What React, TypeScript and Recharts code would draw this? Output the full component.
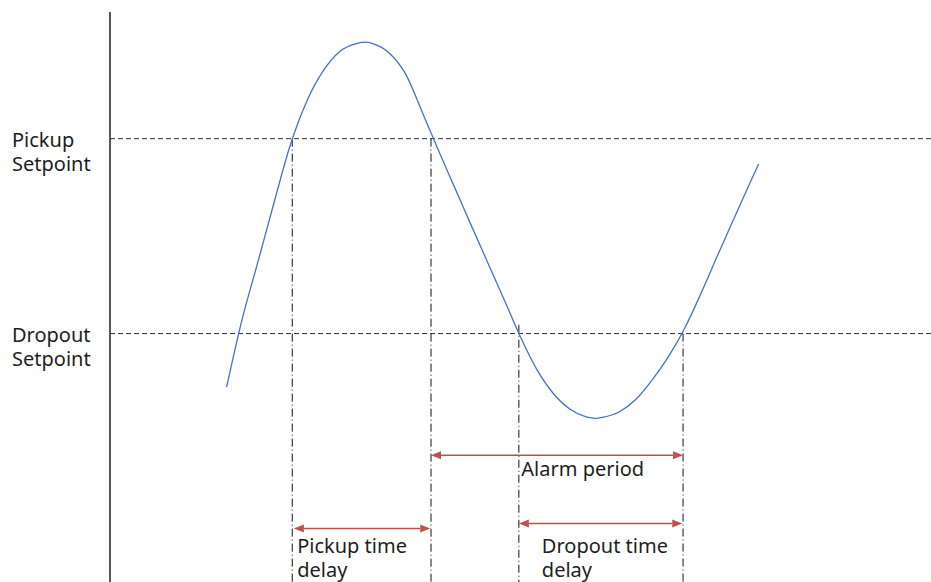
import React from "react";
import { LineChart, Line, XAxis, YAxis, ReferenceLine, ReferenceDot } from "recharts";

const signalTime = [14.2, 16, 18, 20, 22, 24, 26, 28, 30, 31.1, 32, 34, 36, 38, 40, 42, 44, 46, 48, 50, 52, 54, 56, 58, 59.1, 60, 62, 64, 66, 68, 70, 72, 74, 76, 78, 79];
const signalValue = [29.0, 42.3, 54.6, 67.0, 78.9, 87.8, 94.0, 97.9, 99.5, 99.8, 99.5, 97.6, 93.3, 85.6, 77.6, 69.9, 62.2, 54.6, 47.0, 39.3, 32.6, 27.7, 24.5, 22.9, 22.6, 22.8, 23.9, 26.4, 30.4, 35.2, 41.1, 48.3, 56.0, 63.6, 71.1, 74.8];

const setpointValues = [80, 40];
const setpointLabels = [["Pickup", "Setpoint"], ["Dropout", "Setpoint"]];

// where the signal crosses a setpoint, and the level each marker starts from
const crossingTimes = [22.2, 39.1, 49.8, 69.8];
const crossingLevels = [80, 80, 41.8, 40];

const spanFrom = [39.1, 22.4, 49.8];
const spanTo = [69.8, 39.0, 69.7];
const spanLevel = [15, 0, 1];
const spanLabelLines = [["Alarm period"], ["Pickup time", "delay"], ["Dropout time", "delay"]];
const spanLabelTime = [50.1, 22.8, 52.6];
const spanLabelLevel = [10.8, -5, -5];

const Y_MIN = -11;
const Y_MAX = 106;
const FONT = "'Noto Sans', sans-serif";
const TEXT = "#1e1e1e";
const RED = "#C0504D";

const data = signalTime.map((t, i) => ({ t, v: signalValue[i] }));

const SetpointTick = (props: any) => {
  const { y, payload } = props;
  const idx = setpointValues.indexOf(payload.value);
  const lines = setpointLabels[idx] || [];
  return (
    <text x={12} y={y + 8} fontFamily={FONT} fontSize={20} fill={TEXT} textAnchor="start">
      {lines.map((l, i) => (
        <tspan key={i} x={12} dy={i === 0 ? 0 : 24}>
          {l}
        </tspan>
      ))}
    </text>
  );
};

const Arrow = (props: any) => {
  const { x1, y1, x2, y2 } = props;
  const left = Math.min(x1, x2);
  const right = Math.max(x1, x2);
  const y = (y1 + y2) / 2;
  const head = 10;
  const half = 4;
  return (
    <g>
      <line x1={left + head} y1={y} x2={right - head} y2={y} stroke={RED} strokeWidth={1.5} />
      <polygon points={`${left},${y} ${left + head},${y - half} ${left + head},${y + half}`} fill={RED} />
      <polygon points={`${right},${y} ${right - head},${y - half} ${right - head},${y + half}`} fill={RED} />
    </g>
  );
};

const spanLabel = (lines: string[]) => (props: any) => {
  const { cx, cy } = props;
  return (
    <text x={cx} y={cy} fontFamily={FONT} fontSize={20} fill={TEXT} textAnchor="start">
      {lines.map((l, i) => (
        <tspan key={i} x={cx} dy={i === 0 ? 0 : 24}>
          {l}
        </tspan>
      ))}
    </text>
  );
};

export default function App() {
  return (
    <div style={{ position: "fixed", left: 0, top: 0, width: 931, height: 582, background: "#fff" }}>
      <LineChart width={931} height={582} data={data} margin={{ top: 12, right: 0, bottom: 0, left: 0 }}>
        <XAxis dataKey="t" type="number" domain={[0, 100]} hide />
        <YAxis
          type="number"
          domain={[Y_MIN, Y_MAX]}
          ticks={setpointValues}
          width={110}
          tickLine={false}
          axisLine={{ stroke: "#222", strokeWidth: 1.5 }}
          tick={<SetpointTick />}
          interval={0}
        />
        {setpointValues.map((v) => (
          <ReferenceLine key={`sp${v}`} y={v} stroke="#333" strokeWidth={1} strokeDasharray="5 3" />
        ))}
        {crossingTimes.map((t, i) => (
          <ReferenceLine
            key={`cx${i}`}
            segment={[
              { x: t, y: crossingLevels[i] },
              { x: t, y: Y_MIN },
            ]}
            stroke="#111"
            strokeWidth={1}
            strokeDasharray="8 3 1 3"
          />
        ))}
        {spanFrom.map((f, i) => (
          <ReferenceLine
            key={`span${i}`}
            segment={[
              { x: f, y: spanLevel[i] },
              { x: spanTo[i], y: spanLevel[i] },
            ]}
            shape={Arrow}
          />
        ))}
        {spanLabelLines.map((lines, i) => (
          <ReferenceDot
            key={`lbl${i}`}
            x={spanLabelTime[i]}
            y={spanLabelLevel[i]}
            r={0}
            ifOverflow="visible"
            shape={spanLabel(lines)}
          />
        ))}
        <Line
          type="monotone"
          dataKey="v"
          stroke="#4472C4"
          strokeWidth={1.3}
          dot={false}
          isAnimationActive={false}
        />
      </LineChart>
    </div>
  );
}
